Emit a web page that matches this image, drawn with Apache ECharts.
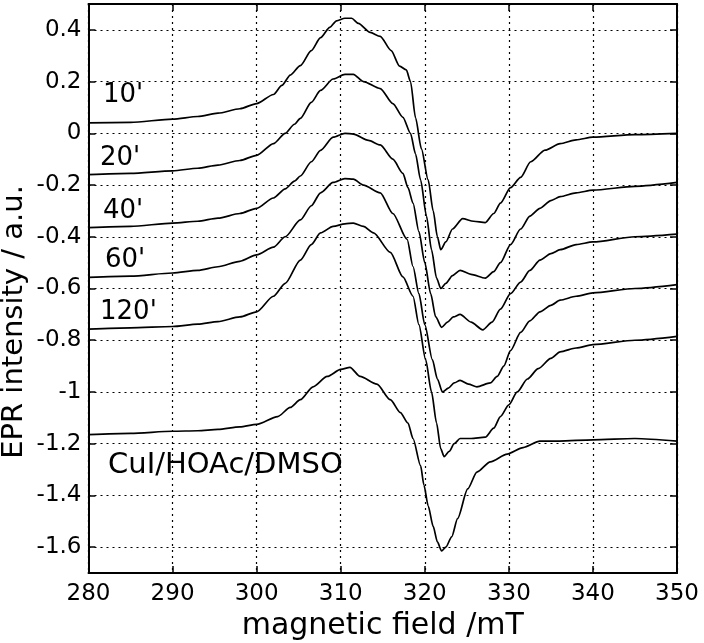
<!DOCTYPE html>
<html>
<head>
<meta charset="utf-8">
<script src="https://cdn.jsdelivr.net/npm/echarts@6/dist/echarts.min.js"></script>
<style>
html,body{margin:0;padding:0;background:#fff;}
#chart{width:704px;height:643px;}
</style>
</head>
<body>
<div id="chart"></div>
<script>
// ---- data ----
var xTicks = [280, 290, 300, 310, 320, 330, 340, 350];
var yTicks = [-1.6, -1.4, -1.2, -1, -0.8, -0.6, -0.4, -0.2, 0, 0.2, 0.4];

var field10 = [280,285,290,293,295.4,298,300,302,303,304,305.2,306.5,307.6,308.7,309.5,310.5,311.3,312.1,313.5,314.7,316,317,317.8,318.3,318.9,319.6,320.4,321,321.5,321.9,322.5,323.3,324.5,325.8,327.2,328.2,329,330.2,331.4,332.6,334.3,336.1,338,340,345,350];
var epr10   = [0.04,0.042,0.055,0.065,0.078,0.095,0.115,0.15,0.185,0.225,0.262,0.32,0.37,0.41,0.435,0.445,0.445,0.425,0.39,0.375,0.32,0.26,0.245,0.2,0.06,-0.06,-0.18,-0.3,-0.4,-0.45,-0.42,-0.37,-0.33,-0.34,-0.345,-0.31,-0.27,-0.21,-0.17,-0.11,-0.065,-0.04,-0.025,-0.015,-0.005,0.0];

var field20 = [280,285,290,293,295.4,298,300,302,303.4,304.5,305.2,306.5,307.6,309.1,310.5,311.5,312.7,314.7,316.2,317.4,318.3,318.9,319.5,320.2,320.8,321.4,321.9,322.5,323.3,324.2,325.5,327.2,328.2,329,330.2,331.4,332.5,333.7,335,336.1,338,340,345,350];
var epr20   = [-0.16,-0.155,-0.145,-0.135,-0.123,-0.105,-0.085,-0.04,0.0,0.035,0.058,0.12,0.166,0.21,0.228,0.228,0.2,0.173,0.115,0.062,0.0,-0.08,-0.18,-0.32,-0.45,-0.56,-0.6,-0.58,-0.55,-0.53,-0.545,-0.56,-0.535,-0.5,-0.43,-0.37,-0.32,-0.29,-0.26,-0.245,-0.23,-0.22,-0.205,-0.19];

var field40 = [280,285,290,293,295.4,298,300,302,303.4,304.5,305.2,306.5,307.6,309.1,310.5,311.5,313.3,314.7,316.2,317.4,318,318.6,319.3,320,320.7,321.3,322,322.7,323.4,324.2,325.5,326.9,328,329,330.2,331.4,332.5,333.7,335,336.1,338,340,345,350];
var epr40   = [-0.365,-0.36,-0.347,-0.34,-0.328,-0.31,-0.29,-0.25,-0.215,-0.185,-0.165,-0.11,-0.066,-0.015,0.0,-0.003,-0.027,-0.045,-0.1,-0.155,-0.21,-0.27,-0.38,-0.5,-0.62,-0.71,-0.75,-0.73,-0.71,-0.7,-0.73,-0.76,-0.73,-0.68,-0.62,-0.575,-0.53,-0.49,-0.465,-0.45,-0.43,-0.42,-0.4,-0.39];

var field60 = [280,285,290,293,295.4,298,300,302,303.4,305.2,306.5,307.6,309.1,310.5,311.5,312.7,314.7,316.2,317.9,318.6,319.3,320,320.9,321.5,322.1,322.8,323.5,324.2,325.2,326.2,327.8,328.6,329.4,330.2,331.4,332.5,333.7,335,336.1,338,340,345,350];
var epr60   = [-0.557,-0.552,-0.54,-0.53,-0.516,-0.495,-0.47,-0.44,-0.4,-0.335,-0.28,-0.23,-0.19,-0.175,-0.177,-0.2,-0.23,-0.31,-0.41,-0.515,-0.62,-0.74,-0.875,-0.95,-1.0,-0.985,-0.965,-0.955,-0.97,-0.98,-0.965,-0.94,-0.9,-0.84,-0.77,-0.725,-0.69,-0.665,-0.645,-0.63,-0.617,-0.6,-0.585];

var field120 = [280,285,290,293,295.4,298,300,302,303.4,305.2,306.5,307.6,309.1,310.5,311.5,312.7,313.9,315.9,317.4,318.6,319.3,320.1,320.8,321.4,321.9,322.3,322.9,323.5,324.2,325.5,327.2,328.2,329,330,331,332.2,333.5,335,336.1,338,340,345,350];
var epr120   = [-0.757,-0.752,-0.747,-0.738,-0.728,-0.71,-0.69,-0.63,-0.58,-0.49,-0.43,-0.385,-0.36,-0.35,-0.347,-0.36,-0.385,-0.46,-0.555,-0.63,-0.74,-0.875,-1.0,-1.12,-1.22,-1.25,-1.23,-1.2,-1.18,-1.18,-1.175,-1.14,-1.095,-1.05,-1.0,-0.95,-0.91,-0.87,-0.845,-0.83,-0.817,-0.8,-0.785];

var fieldCu = [280,285,290,293,295.4,298,300,302.5,304,305.2,306.7,308.4,310,311.1,312.3,314.3,315.9,317.1,318,318.6,319.5,319.9,320.4,321,321.5,322,322.5,323.2,323.9,325.1,326.2,327.8,329.8,331.7,333.7,336,340,345,350];
var eprCu   = [-1.165,-1.16,-1.152,-1.15,-1.145,-1.135,-1.125,-1.095,-1.06,-1.03,-0.98,-0.94,-0.913,-0.905,-0.94,-0.97,-1.03,-1.08,-1.12,-1.18,-1.285,-1.36,-1.44,-1.52,-1.58,-1.615,-1.6,-1.56,-1.49,-1.375,-1.31,-1.27,-1.24,-1.215,-1.19,-1.19,-1.185,-1.18,-1.19];

var curveLabels = ["10'", "20'", "40'", "60'", "120'", "CuI/HOAc/DMSO"];

function zip(xs, ys) { return xs.map(function (x, i) { return [x, ys[i]]; }); }

var FONT = 'DejaVu Sans';
var gridDotted = { show: true, lineStyle: { color: '#000', width: 1.2, type: [2, 4] } };

var series = [
  [field10, epr10], [field20, epr20], [field40, epr40],
  [field60, epr60], [field120, epr120], [fieldCu, eprCu]
].map(function (p, i) {
  return {
    type: 'line', name: curveLabels[i], data: zip(p[0], p[1]),
    showSymbol: false, symbol: 'none', animation: false, silent: true,
    smooth: 0.25, smoothMonotone: 'x',
    lineStyle: { color: '#000', width: 1.7 }, xAxisIndex: 0, yAxisIndex: 0
  };
});

var labelPos = [[103, 97, 26], [100, 160, 26], [103, 213, 26], [105, 262, 26], [100, 314, 26], [108, 467, 29]];
var graphics = curveLabels.map(function (t, i) {
  return { type: 'text', left: labelPos[i][0], top: labelPos[i][1] - labelPos[i][2] * 0.55, silent: true,
    style: { text: t, fontFamily: FONT, fontSize: labelPos[i][2], fill: '#000' } };
});
graphics.push({ type: 'text', silent: true, rotation: Math.PI / 2, x: 14, y: 322,
  style: { text: 'EPR intensity / a.u.', fontFamily: FONT, fontSize: 29, fill: '#000', align: 'center', verticalAlign: 'middle' } });

var chart = echarts.init(document.getElementById('chart'), null, { renderer: 'canvas' });
chart.setOption({
  animation: false,
  backgroundColor: '#fff',
  grid: { left: 88.5, right: 27, top: 4, bottom: 70, containLabel: false, outerBoundsMode: 'none' },
  xAxis: [
    { type: 'value', min: 280, max: 350, interval: 10, position: 'bottom',
      name: 'magnetic field /mT', nameLocation: 'middle', nameGap: 33,
      nameTextStyle: { fontFamily: FONT, fontSize: 30, color: '#000' },
      axisLine: { show: true, onZero: false, lineStyle: { color: '#000', width: 2 } },
      axisTick: { show: true, inside: true, length: 7, lineStyle: { color: '#000', width: 1.5 } },
      axisLabel: { fontFamily: FONT, fontSize: 23, color: '#000', margin: 10 },
      splitLine: gridDotted },
    { type: 'value', min: 280, max: 350, interval: 10, position: 'top',
      axisLine: { show: true, onZero: false, lineStyle: { color: '#000', width: 2 } },
      axisTick: { show: true, inside: true, length: 7, lineStyle: { color: '#000', width: 1.5 } },
      axisLabel: { show: false }, splitLine: { show: false } }
  ],
  yAxis: [
    { type: 'value', min: -1.7, max: 0.5, position: 'left',
      axisLine: { show: true, onZero: false, lineStyle: { color: '#000', width: 2 } },
      axisTick: { show: true, inside: true, length: 7, customValues: yTicks, lineStyle: { color: '#000', width: 1.5 } },
      axisLabel: { fontFamily: FONT, fontSize: 23, color: '#000', margin: 7, customValues: yTicks,
        formatter: function (v) { return String(Math.round(v * 10) / 10); } },
      splitLine: gridDotted },
    { type: 'value', min: -1.7, max: 0.5, position: 'right',
      axisLine: { show: true, onZero: false, lineStyle: { color: '#000', width: 2 } },
      axisTick: { show: true, inside: true, length: 7, customValues: yTicks, lineStyle: { color: '#000', width: 1.5 } },
      axisLabel: { show: false }, splitLine: { show: false } }
  ],
  series: series,
  graphic: graphics
});
</script>
</body>
</html>
